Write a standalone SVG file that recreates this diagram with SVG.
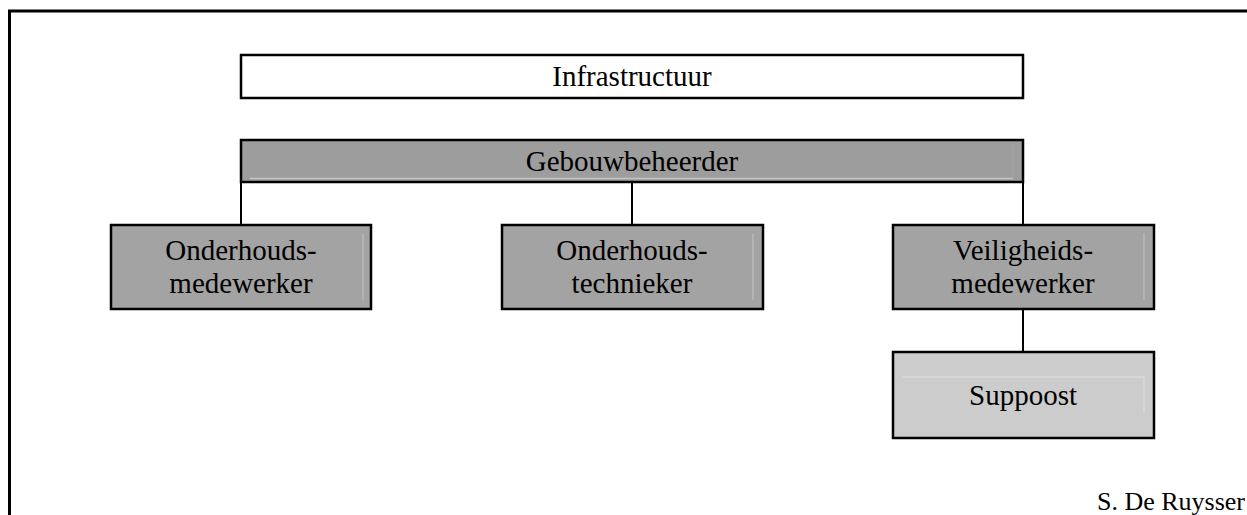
<svg xmlns="http://www.w3.org/2000/svg" width="1247" height="515" viewBox="0 0 1247 515">
<style>
.box{stroke:#000;stroke-width:2.5}
.dark{fill:#9d9d9d}
.mid{fill:#a3a3a3}
.light{fill:#cccccc}
.white{fill:#fff}
.hl{stroke:#c4c4c4;stroke-width:1.5;fill:none}
.t{font-family:"Liberation Serif","Times New Roman",serif;font-size:29px;fill:#000;text-anchor:middle}
.conn{stroke:#000;stroke-width:2;fill:none}
</style>
<rect width="1247" height="515" fill="#fff"/>
<path d="M9.5 515 V11 H1247" fill="none" stroke="#000" stroke-width="3"/>
<g id="connectors">
<line class="conn" x1="241" y1="182" x2="241" y2="225"/>
<line class="conn" x1="632" y1="182" x2="632" y2="225"/>
<line class="conn" x1="1023" y1="182" x2="1023" y2="225"/>
<line class="conn" x1="1023" y1="309" x2="1023" y2="352"/>
</g>
<g id="infrastructuur">
<rect class="box white" x="241" y="55" width="782" height="43"/>
<text class="t" x="632" y="86">Infrastructuur</text>
</g>
<g id="gebouwbeheerder">
<rect class="box dark" x="241" y="140" width="782" height="42"/>
<path class="hl" d="M250 178.5 H1013"/>
<line x1="1013" y1="145" x2="1013" y2="178" stroke="#a8a8a8" stroke-width="1"/>
<text class="t" x="632" y="171">Gebouwbeheerder</text>
</g>
<g id="onderhoudsmedewerker">
<rect class="box mid" x="111" y="225" width="260" height="84"/>
<line class="hl" x1="363" y1="234" x2="363" y2="300" style="stroke-width:1"/>
<text class="t" x="241" y="260">Onderhouds-</text>
<text class="t" x="241" y="293">medewerker</text>
</g>
<g id="onderhoudstechnieker">
<rect class="box mid" x="502" y="225" width="261" height="84"/>
<line class="hl" x1="753" y1="234" x2="753" y2="300" style="stroke-width:1"/>
<text class="t" x="632" y="260">Onderhouds-</text>
<text class="t" x="632" y="293">technieker</text>
</g>
<g id="veiligheidsmedewerker">
<rect class="box mid" x="893" y="225" width="261" height="84"/>
<line class="hl" x1="1144" y1="233" x2="1144" y2="300" style="stroke-width:1"/>
<text class="t" x="1023" y="260">Veiligheids-</text>
<text class="t" x="1023" y="293">medewerker</text>
</g>
<g id="suppoost">
<rect class="box light" x="893" y="352" width="261" height="86"/>
<path class="hl" d="M902 377 H1144 V413" style="stroke:#e0e0e0;stroke-width:1"/>
<text class="t" x="1023" y="405">Suppoost</text>
</g>
<text class="t" x="1245" y="510" style="text-anchor:end;font-size:26px">S. De Ruysser</text>
</svg>
